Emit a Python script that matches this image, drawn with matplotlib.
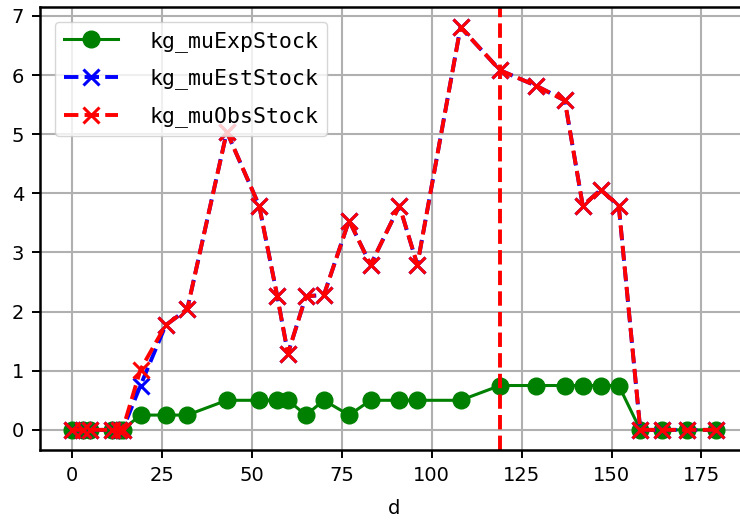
import matplotlib
matplotlib.use("Agg")
import matplotlib.pyplot as plt

d = [0, 3, 5, 11, 13, 14, 19, 26, 32, 43, 52, 57, 60, 65, 70, 77, 83, 91, 96,
     108, 119, 129, 137, 142, 147, 152, 158, 164, 171, 179]
mu_exp = [0, 0, 0, 0, 0, 0, 0.25, 0.25, 0.25, 0.5, 0.5, 0.5, 0.5, 0.25, 0.5, 0.25,
          0.5, 0.5, 0.5, 0.5, 0.75, 0.75, 0.75, 0.75, 0.75, 0.75, 0, 0, 0, 0]
mu_obs = [0, 0, 0, 0, 0, 0, 1.02, 1.77, 2.04, 5.04, 3.79, 2.27, 1.29, 2.26, 2.28,
          3.54, 2.79, 3.79, 2.79, 6.81, 6.08, 5.82, 5.57, 3.79, 4.06, 3.79, 0, 0, 0, 0]
mu_est = [0, 0, 0, 0, 0, 0, 0.75, 1.77, 2.04, 5.04, 3.79, 2.27, 1.29, 2.26, 2.28,
          3.54, 2.79, 3.79, 2.79, 6.81, 6.08, 5.82, 5.57, 3.79, 4.06, 3.79, 0, 0, 0, 0]
vline_d = 119
labels = ["kg_muExpStock", "kg_muEstStock", "kg_muObsStock"]
xlabel = "d"

plt.rcParams['font.family'] = ['DejaVu Sans']
fig = plt.figure(figsize=(7.4, 5.2), dpi=100)
ax = fig.add_axes([40/740, 70/520, 708/740, 443/520])

ax.plot(d, mu_exp, color='green', marker='o', markersize=12, linewidth=2.2,
        label=labels[0])
ax.plot(d, mu_est, color='blue', marker='x', markersize=12, markeredgewidth=2.2,
        linewidth=2.8, linestyle='--', label=labels[1])
ax.plot(d, mu_obs, color='red', marker='x', markersize=12, markeredgewidth=2.2,
        linewidth=2.8, linestyle='--', label=labels[2])
ax.axvline(vline_d, color='red', linestyle='--', linewidth=2.8)

ax.grid(True, color='#b0b0b0', linewidth=1.5)
ax.set_axisbelow(True)
ax.set_xticks([0, 25, 50, 75, 100, 125, 150, 175])
ax.set_yticks(range(0, 8))
ax.tick_params(labelsize=14, length=5.5, width=1.4, pad=6)
for s in ax.spines.values():
    s.set_linewidth(1.8)
ax.set_xlabel(xlabel, fontsize=14, labelpad=10)

leg = ax.legend(loc='upper left', prop={'family': 'DejaVu Sans Mono', 'size': 15.5},
                handlelength=2.5, handletextpad=1.5, borderaxespad=0.7,
                labelspacing=0.78, framealpha=0.8)
fig.savefig("out.png", dpi=100)
